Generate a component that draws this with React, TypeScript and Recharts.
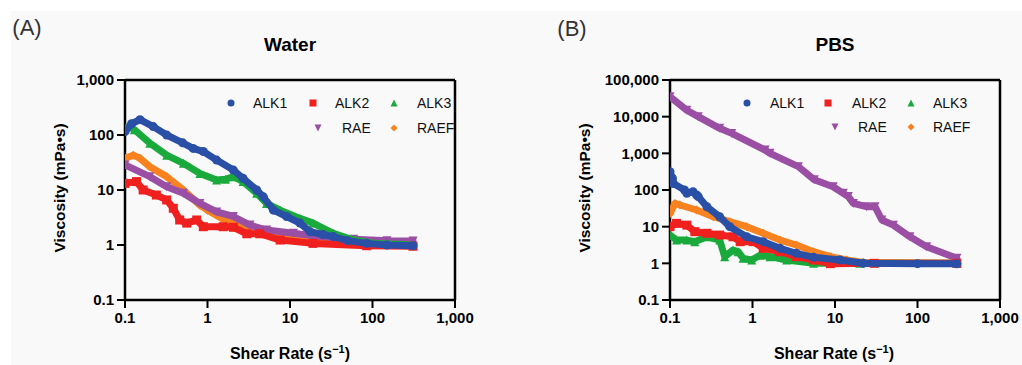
import React from 'react'
import { ScatterChart, Scatter, XAxis, YAxis, ReferenceLine } from 'recharts'

const FONT = '"Liberation Sans", Arial, Helvetica, sans-serif'
const BG = '#f9f9f9'

const seriesNames = ['ALK1', 'ALK2', 'ALK3', 'RAE', 'RAEF']
const seriesColors: Record<string, string> = {
  ALK1: '#2a4fa6',
  ALK2: '#f0201f',
  ALK3: '#1aaa3c',
  RAE: '#9a4fa4',
  RAEF: '#f7821f',
}
const seriesShapes: Record<string, string> = {
  ALK1: 'circle',
  ALK2: 'square',
  ALK3: 'triangle',
  RAE: 'triangleDown',
  RAEF: 'diamond',
}

const xTicks = [0.1, 1, 10, 100, 1000]
const waterTicks = [0.1, 1, 10, 100, 1000]
const pbsTicks = [0.1, 1, 10, 100, 1000, 10000, 100000]

// (A) Water: [shear rate, viscosity]
const waterALK1 = [
  [0.1, 115], [0.12, 160], [0.152, 190], [0.22, 142], [0.32, 100], [0.5, 72], [0.67, 57],
  [0.89, 50], [1.29, 35], [2.06, 23], [2.7, 16.3], [3.95, 10], [4.75, 7.5], [6.3, 4.3],
  [9.1, 3.3], [13.2, 2.5], [17.4, 1.75], [25, 1.55], [33.5, 1.42], [50, 1.2], [85, 1.07],
  [150, 1.0], [310, 0.97],
]
const waterALK2 = [
  [0.1, 13.2], [0.138, 14.2], [0.166, 10], [0.24, 8.1], [0.32, 6.6], [0.385, 4.65],
  [0.46, 2.85], [0.56, 2.5], [0.74, 2.85], [0.89, 2.15], [1.55, 2.15], [2.06, 2.1],
  [3.0, 1.6], [4.3, 1.6], [7.6, 1.23], [19, 1.07], [85, 0.97], [310, 0.95],
]
const waterALK3 = [
  [0.1, 128], [0.11, 142], [0.13, 125], [0.2, 71], [0.32, 43], [0.51, 30.5], [0.81, 20],
  [1.29, 15.2], [1.65, 15.7], [2.06, 17.5], [2.7, 14.2], [3.95, 8.7], [5.2, 5.7], [7.6, 4.3],
  [13.2, 3.05], [19, 2.5], [33.5, 1.63], [59, 1.23], [100, 1.08], [310, 1.0],
]
const waterRAE = [
  [0.1, 28.5], [0.2, 17.5], [0.32, 11.5], [0.51, 8.7], [0.81, 5.7], [1.29, 4.0], [2.06, 3.3],
  [3.27, 2.3], [5.2, 1.87], [11, 1.63], [23, 1.42], [59, 1.27], [150, 1.2], [310, 1.18],
]
const waterRAEF = [
  [0.1, 37.7], [0.126, 43], [0.152, 37.7], [0.2, 26.5], [0.32, 17.5], [0.51, 10], [0.81, 5.3],
  [1.0, 4.3], [1.49, 3.05], [2.0, 2.6], [2.5, 2.15], [3.6, 1.75], [8.3, 1.52], [21, 1.32],
  [85, 1.07], [310, 1.0],
]

// (B) PBS
const pbsALK1 = [
  [0.1, 316], [0.107, 210], [0.11, 150], [0.15, 100], [0.16, 81], [0.19, 90], [0.21, 73],
  [0.22, 66], [0.28, 35], [0.4, 18.7], [0.53, 10], [0.85, 5.3], [1.35, 3.9], [2.15, 2.57],
  [3.4, 1.87], [5.5, 1.46], [11.5, 1.23], [22, 1.0], [100, 0.98], [300, 0.97],
]
const pbsALK2 = [
  [0.1, 10], [0.12, 12.3], [0.16, 11], [0.2, 7.3], [0.28, 6.6], [0.4, 5.9], [0.58, 5.3],
  [0.71, 3.9], [1.02, 3.9], [1.35, 2.57], [2.15, 2.08], [3.4, 1.52], [5.5, 1.23], [8.8, 0.98],
  [30, 1.0], [300, 1.0],
]
const pbsALK3 = [
  [0.1, 5.9], [0.12, 4.3], [0.16, 4.3], [0.2, 3.9], [0.28, 5.3], [0.4, 4.3], [0.46, 1.52],
  [0.58, 2.3], [0.67, 2.08], [0.77, 1.37], [0.98, 1.23], [1.23, 1.66], [1.63, 1.52],
  [2.6, 1.23], [5.5, 1.0], [20, 1.0], [300, 1.0],
]
const pbsRAE = [
  [0.1, 35000], [0.16, 15000], [0.22, 10000], [0.4, 4800], [0.56, 3500], [1.42, 1230],
  [1.63, 1000], [3.6, 433], [5.6, 190], [9.5, 123], [12.6, 81], [14.5, 66], [16.7, 43],
  [24, 35], [30.5, 35], [37, 15.2], [51, 11], [81, 5.3], [129, 2.85], [300, 1.37],
]
const pbsRAEF = [
  [0.1, 23], [0.115, 43], [0.132, 39], [0.21, 28.5], [0.335, 18.7], [0.53, 13.7], [0.85, 10],
  [1.35, 6.6], [2.15, 4.3], [3.4, 3.16], [5.5, 2.08], [8.8, 1.52], [13.9, 1.23], [22, 1.05],
  [300, 1.0],
]

const toPoints = (pairs: number[][]) => pairs.map(([x, y]) => ({ x, y }))

function Marker({ kind, cx, cy, size, color }: { kind: string; cx: number; cy: number; size: number; color: string }) {
  const h = size / 2
  if (kind === 'circle') return <circle cx={cx} cy={cy} r={h} fill={color} />
  if (kind === 'square') return <rect x={cx - h} y={cy - h} width={size} height={size} fill={color} />
  if (kind === 'triangle')
    return <polygon points={`${cx},${cy - h} ${cx + h},${cy + h} ${cx - h},${cy + h}`} fill={color} />
  if (kind === 'triangleDown')
    return <polygon points={`${cx - h},${cy - h} ${cx + h},${cy - h} ${cx},${cy + h}`} fill={color} />
  return <polygon points={`${cx},${cy - h} ${cx + h},${cy} ${cx},${cy + h} ${cx - h},${cy}`} fill={color} />
}

const fmt = (v: number) => v.toLocaleString('en-US')

interface PanelProps {
  left: number
  yTicks: number[]
  yWidth: number
  marginLeft: number
  marginRight: number
  series: Record<string, number[][]>
}

function Panel({ left, yTicks, yWidth, marginLeft, marginRight, series }: PanelProps) {
  const yMax = yTicks[yTicks.length - 1]
  const drawOrder = ['RAEF', 'RAE', 'ALK3', 'ALK2', 'ALK1']
  return (
    <div style={{ position: 'absolute', left, top: 0 }}>
      <ScatterChart
        width={511}
        height={365}
        margin={{ top: 80, right: marginRight, bottom: 35, left: marginLeft }}
      >
        <XAxis
          dataKey="x"
          type="number"
          scale="log"
          domain={[0.1, 1000]}
          ticks={xTicks}
          interval={0}
          allowDataOverflow
          height={30}
          tickSize={8}
          tickMargin={4}
          tickFormatter={fmt}
          axisLine={{ stroke: '#000', strokeWidth: 2.5 }}
          tickLine={{ stroke: '#000', strokeWidth: 2 }}
          tick={{ fill: '#000', fontSize: 15, fontWeight: 'bold', fontFamily: FONT }}
        />
        <YAxis
          dataKey="y"
          type="number"
          scale="log"
          domain={[0.1, yMax]}
          ticks={yTicks}
          interval={0}
          allowDataOverflow
          width={yWidth}
          tickSize={8}
          tickMargin={3}
          tickFormatter={fmt}
          axisLine={{ stroke: '#000', strokeWidth: 2.5 }}
          tickLine={{ stroke: '#000', strokeWidth: 2 }}
          tick={{ fill: '#000', fontSize: 15, fontWeight: 'bold', fontFamily: FONT }}
        />
        <ReferenceLine y={yMax} stroke="#000" strokeWidth={2.5} />
        <ReferenceLine x={1000} stroke="#000" strokeWidth={2.5} />
        {drawOrder.map(name => (
          <Scatter
            key={name}
            name={name}
            data={toPoints(series[name])}
            fill={seriesColors[name]}
            isAnimationActive={false}
            line={{ stroke: seriesColors[name], strokeWidth: 7, strokeLinejoin: 'round', strokeLinecap: 'round' }}
            shape={(p: any) => (
              <Marker kind={seriesShapes[name]} cx={p.cx} cy={p.cy} size={9} color={seriesColors[name]} />
            )}
          />
        ))}
      </ScatterChart>
    </div>
  )
}

interface LegendItem {
  name: string
  mx: number
  tx: number
  y: number
}

function LegendBlock({ items }: { items: LegendItem[] }) {
  return (
    <>
      {items.map(it => (
        <React.Fragment key={it.name}>
          <svg style={{ position: 'absolute', left: it.mx - 5, top: it.y - 5 }} width={10} height={10}>
            <Marker kind={seriesShapes[it.name]} cx={5} cy={5} size={7} color={seriesColors[it.name]} />
          </svg>
          <div
            style={{
              position: 'absolute',
              left: it.tx,
              top: it.y - 9,
              fontSize: 14,
              lineHeight: '18px',
              fontFamily: FONT,
              color: '#111',
              whiteSpace: 'nowrap',
            }}
          >
            {it.name}
          </div>
        </React.Fragment>
      ))}
    </>
  )
}

const legendA: LegendItem[] = [
  { name: 'ALK1', mx: 231, tx: 253, y: 103 },
  { name: 'ALK2', mx: 313, tx: 335, y: 103 },
  { name: 'ALK3', mx: 394, tx: 417, y: 103 },
  { name: 'RAE', mx: 318, tx: 342, y: 128 },
  { name: 'RAEF', mx: 394, tx: 417, y: 128 },
]
const legendB: LegendItem[] = [
  { name: 'ALK1', mx: 747, tx: 770, y: 103 },
  { name: 'ALK2', mx: 828, tx: 852, y: 103 },
  { name: 'ALK3', mx: 911, tx: 933, y: 103 },
  { name: 'RAE', mx: 835, tx: 858, y: 127 },
  { name: 'RAEF', mx: 911, tx: 933, y: 127 },
]

const centered = (x: number, y: number, extra: React.CSSProperties = {}): React.CSSProperties => ({
  position: 'absolute',
  left: x,
  top: y,
  transform: 'translate(-50%, -50%)',
  fontFamily: FONT,
  whiteSpace: 'nowrap',
  color: '#000',
  ...extra,
})

function YLabel({ x }: { x: number }) {
  return (
    <div style={centered(x, 188, { transform: 'translate(-50%, -50%) rotate(-90deg)', fontSize: 15.5, fontWeight: 'bold' })}>
      Viscosity (mPa•s)
    </div>
  )
}

function XLabel({ x }: { x: number }) {
  return (
    <div style={centered(x, 353, { fontSize: 16, fontWeight: 'bold' })}>
      Shear Rate (s<sup style={{ fontSize: 11, verticalAlign: 'super' }}>−1</sup>)
    </div>
  )
}

export default function App() {
  const water = { ALK1: waterALK1, ALK2: waterALK2, ALK3: waterALK3, RAE: waterRAE, RAEF: waterRAEF }
  const pbs = { ALK1: pbsALK1, ALK2: pbsALK2, ALK3: pbsALK3, RAE: pbsRAE, RAEF: pbsRAEF }
  return (
    <div style={{ position: 'absolute', left: 0, top: 0, width: 1022, height: 365, background: '#fff', overflow: 'hidden' }}>
      <div style={{ position: 'absolute', left: 11, top: 11, right: 0, bottom: 0, background: BG }} />
      <Panel left={0} yTicks={waterTicks} yWidth={60} marginLeft={65} marginRight={56} series={water} />
      <Panel left={511} yTicks={pbsTicks} yWidth={75} marginLeft={84} marginRight={22} series={pbs} />
      <div style={centered(290, 45, { fontSize: 19, fontWeight: 'bold' })}>Water</div>
      <div style={centered(835, 45, { fontSize: 19, fontWeight: 'bold' })}>PBS</div>
      <div style={centered(27, 28, { fontSize: 22, color: '#333' })}>(A)</div>
      <div style={centered(572, 29, { fontSize: 22, color: '#333' })}>(B)</div>
      <YLabel x={60} />
      <YLabel x={585} />
      <XLabel x={290} />
      <XLabel x={834} />
      <LegendBlock items={legendA} />
      <LegendBlock items={legendB} />
    </div>
  )
}
